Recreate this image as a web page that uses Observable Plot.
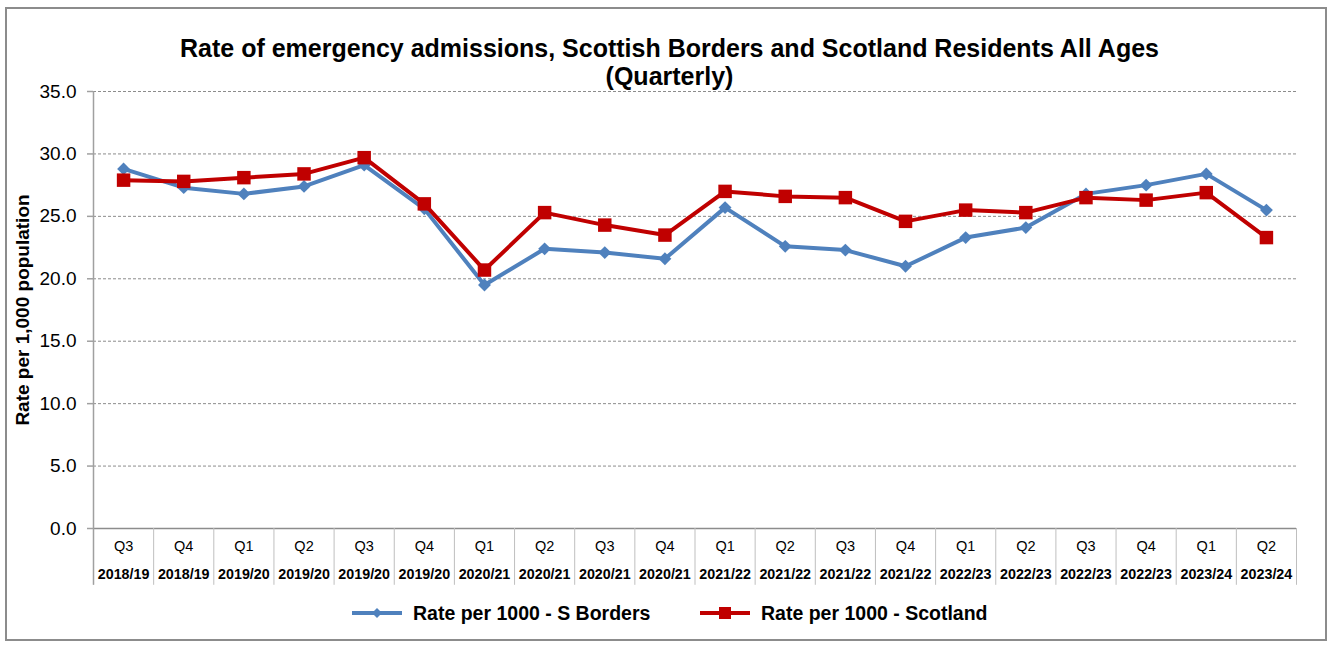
<!DOCTYPE html>
<html>
<head>
<meta charset="utf-8">
<script src="https://cdn.jsdelivr.net/npm/d3@7"></script>
<script src="https://cdn.jsdelivr.net/npm/@observablehq/plot@0.6"></script>
<style>
  html, body { margin: 0; padding: 0; background: #fff; }
  body { width: 1335px; height: 646px; position: relative; overflow: hidden; font-family: "Liberation Sans", Arial, sans-serif; }
  #frame { position: absolute; left: 5px; top: 7px; width: 1322px; height: 634px; border: 2px solid #8c8c8c; box-sizing: border-box; }
  #title { position: absolute; left: 0; width: 1339px; top: 34px; text-align: center; font-weight: bold; font-size: 25px; line-height: 28px; color: #000; }
  #chart { position: absolute; left: 0; top: 0; }
  #legend { position: absolute; top: 601px; left: 0; width: 1335px; height: 24px; font-weight: bold; font-size: 19.5px; }
  .li { position: absolute; top: 0; display: flex; align-items: center; height: 24px; }
  .li svg { margin-right: 11px; }
</style>
</head>
<body>
<div id="frame"></div>
<div id="chart"></div>
<div id="title">Rate of emergency admissions, Scottish Borders and Scotland Residents All Ages<br>(Quarterly)</div>
<div id="legend"></div>
<script>
const quarters = ["Q3","Q4","Q1","Q2","Q3","Q4","Q1","Q2","Q3","Q4","Q1","Q2","Q3","Q4","Q1","Q2","Q3","Q4","Q1","Q2"];
const years = ["2018/19","2018/19","2019/20","2019/20","2019/20","2019/20","2020/21","2020/21","2020/21","2020/21","2021/22","2021/22","2021/22","2021/22","2022/23","2022/23","2022/23","2022/23","2023/24","2023/24"];
const bordersRate = [28.8,27.3,26.8,27.4,29.1,25.6,19.5,22.4,22.1,21.6,25.7,22.6,22.3,21.0,23.3,24.1,26.8,27.5,28.4,25.5];
const scotlandRate = [27.9,27.8,28.1,28.4,29.7,26.0,20.7,25.3,24.3,23.5,27.0,26.6,26.5,24.6,25.5,25.3,26.5,26.3,26.9,23.3];
const yTicks = [0,5,10,15,20,25,30,35];
const seriesNames = ["Rate per 1000 - S Borders","Rate per 1000 - Scotland"];
const seriesColors = ["#4f81bd","#c00000"];

const data = quarters.map((q, i) => ({pos: i + 0.5, quarter: q, year: years[i], borders: bordersRate[i], scotland: scotlandRate[i]}));
const boundaries = d3.range(0, quarters.length + 1);
const grey = "#8c8c8c";

const chart = Plot.plot({
  width: 1335,
  height: 646,
  marginLeft: 93,
  marginRight: 39,
  marginTop: 91,
  marginBottom: 118,
  style: {fontFamily: "'Liberation Sans', Arial, sans-serif", background: "transparent", overflow: "visible"},
  x: {type: "linear", domain: [0, quarters.length], axis: null},
  y: {domain: [0, 35], axis: null},
  marks: [
    Plot.ruleY(yTicks.filter(d => d > 0), {stroke: grey, strokeDasharray: "3,2", strokeWidth: 1}),
    Plot.ruleY([0], {stroke: grey, strokeWidth: 1.5}),
    Plot.ruleX(boundaries, {y1: 0, y2: -4.55, stroke: "#bfbfbf", strokeWidth: 1}),
    Plot.ruleX([0], {y1: -4.55, y2: 35, stroke: "#a0a0a0", strokeWidth: 1.5}),
    Plot.ruleY(yTicks, {x1: -0.1, x2: 0, stroke: "#a0a0a0", strokeWidth: 1.5}),
    Plot.text(yTicks, {x: 0, y: d => d, text: d => d.toFixed(1), textAnchor: "end", dx: -17, fontSize: 19, fill: "#000"}),
    Plot.text(data, {x: "pos", y: () => 0, text: "quarter", dy: 18, fontSize: 14.5, fill: "#000"}),
    Plot.text(data, {x: "pos", y: () => 0, text: "year", dy: 46, fontSize: 14.3, fontWeight: "bold", fill: "#000"}),
    Plot.text(["Rate per 1,000 population"], {frameAnchor: "left", textAnchor: "middle", rotate: -90, dx: -71, fontSize: 19, fontWeight: "bold", fill: "#000"}),
    Plot.line(data, {x: "pos", y: "borders", stroke: seriesColors[0], strokeWidth: 4}),
    Plot.dot(data, {x: "pos", y: "borders", symbol: "diamond2", r: 5.8, fill: seriesColors[0], stroke: "none"}),
    Plot.line(data, {x: "pos", y: "scotland", stroke: seriesColors[1], strokeWidth: 4}),
    Plot.dot(data, {x: "pos", y: "scotland", symbol: "square", r: 7.6, fill: seriesColors[1], stroke: "none"})
  ]
});
document.getElementById("chart").appendChild(chart);

const legend = document.getElementById("legend");
const lefts = [352, 700];
seriesNames.forEach((name, k) => {
  const item = document.createElement("div");
  item.className = "li";
  item.style.left = lefts[k] + "px";
  const marker = k === 0
    ? `<path d="M25,7 L30,12 L25,17 L20,12 Z" fill="${seriesColors[k]}"/>`
    : `<rect x="19" y="6" width="12" height="12" fill="${seriesColors[k]}"/>`;
  item.innerHTML = `<svg width="50" height="24"><line x1="0" y1="12" x2="50" y2="12" stroke="${seriesColors[k]}" stroke-width="4"/>${marker}</svg><span>${name}</span>`;
  legend.appendChild(item);
});
</script>
</body>
</html>
